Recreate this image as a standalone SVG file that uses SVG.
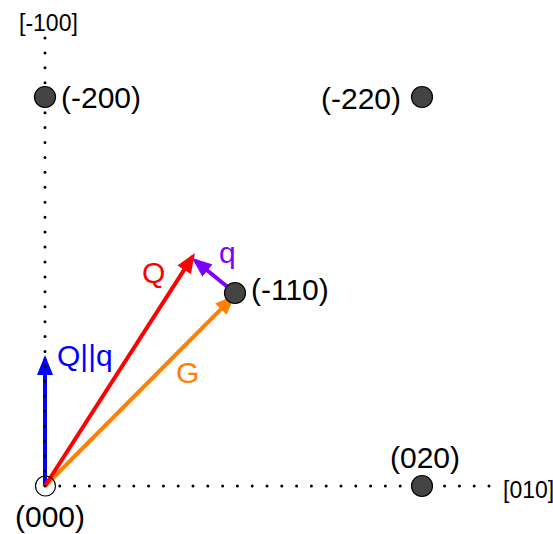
<svg xmlns="http://www.w3.org/2000/svg" width="553" height="534" viewBox="0 0 553 534">
<style>
.lbl{font-family:"Liberation Sans",Arial,sans-serif;font-size:30px;fill:#000}
.ax{font-family:"Liberation Sans",Arial,sans-serif;font-size:23px;fill:#000}
.dot{stroke:#000;stroke-width:3;stroke-linecap:round;fill:none}
.node{fill:#444;stroke:#000;stroke-width:1.2}
.vec{stroke-width:4;fill:none}
</style>
<defs>
<marker id="aR" viewBox="0 0 10 10" refX="8" refY="5" markerWidth="5" markerHeight="4" orient="auto" markerUnits="strokeWidth" preserveAspectRatio="none"><path d="M0,0L10,5L0,10z" fill="#ff0000"/></marker>
<marker id="aO" viewBox="0 0 10 10" refX="8" refY="5" markerWidth="5" markerHeight="4" orient="auto" markerUnits="strokeWidth" preserveAspectRatio="none"><path d="M0,0L10,5L0,10z" fill="#ff8000"/></marker>
<marker id="aP" viewBox="0 0 10 10" refX="8" refY="5" markerWidth="5" markerHeight="4" orient="auto" markerUnits="strokeWidth" preserveAspectRatio="none"><path d="M0,0L10,5L0,10z" fill="#8000ff"/></marker>
<marker id="aB" viewBox="0 0 10 10" refX="8" refY="5" markerWidth="5" markerHeight="4" orient="auto" markerUnits="strokeWidth" preserveAspectRatio="none"><path d="M0,0L10,5L0,10z" fill="#0000ff"/></marker>
</defs>
<g id="connectors">
<line class="vec" stroke="#0000ff" x1="45" y1="486" x2="45" y2="359" marker-end="url(#aB)"/>
<line class="vec" stroke="#ff8000" x1="45" y1="486" x2="232.2" y2="297.8" marker-end="url(#aO)"/>
<line class="vec" stroke="#ff0000" x1="45" y1="486" x2="192.8" y2="256.4" marker-end="url(#aR)"/>
<line class="vec" stroke="#8000ff" x1="235" y1="293" x2="195.1" y2="260.5" marker-end="url(#aP)"/>
</g>
<g id="axes">
<line class="dot" x1="45" y1="38" x2="45" y2="486" stroke-dasharray="0 14.93"/>
<line class="dot" x1="489" y1="486" x2="45" y2="486" stroke-dasharray="0 14.8"/>
<text class="ax" x="19" y="31">[-100]</text>
<text class="ax" x="503" y="498">[010]</text>
</g>
<g id="n000"><circle cx="45.5" cy="486" r="10" fill="none" stroke="#000" stroke-width="1.2"/><text class="lbl" x="15" y="527">(000)</text></g>
<g id="n200"><circle class="node" cx="45" cy="97" r="10.5"/><text class="lbl" x="61" y="108">(-200)</text></g>
<g id="n220"><circle class="node" cx="422" cy="97" r="10.5"/><text class="lbl" x="321" y="109">(-220)</text></g>
<g id="n110"><circle class="node" cx="235" cy="293" r="10.5"/><text class="lbl" x="251" y="300">(-110)</text></g>
<g id="n020"><circle class="node" cx="422" cy="486" r="10.5"/><text class="lbl" x="390" y="468">(020)</text></g>
<g id="labels">
<text class="lbl" x="142" y="283" style="fill:#ff0000">Q</text>
<text class="lbl" x="219" y="263" style="fill:#8000ff">q</text>
<text class="lbl" x="176" y="383" style="fill:#ff8000">G</text>
<text class="lbl" x="57" y="366" style="fill:#0000ff">Q||q</text>
</g>
</svg>
